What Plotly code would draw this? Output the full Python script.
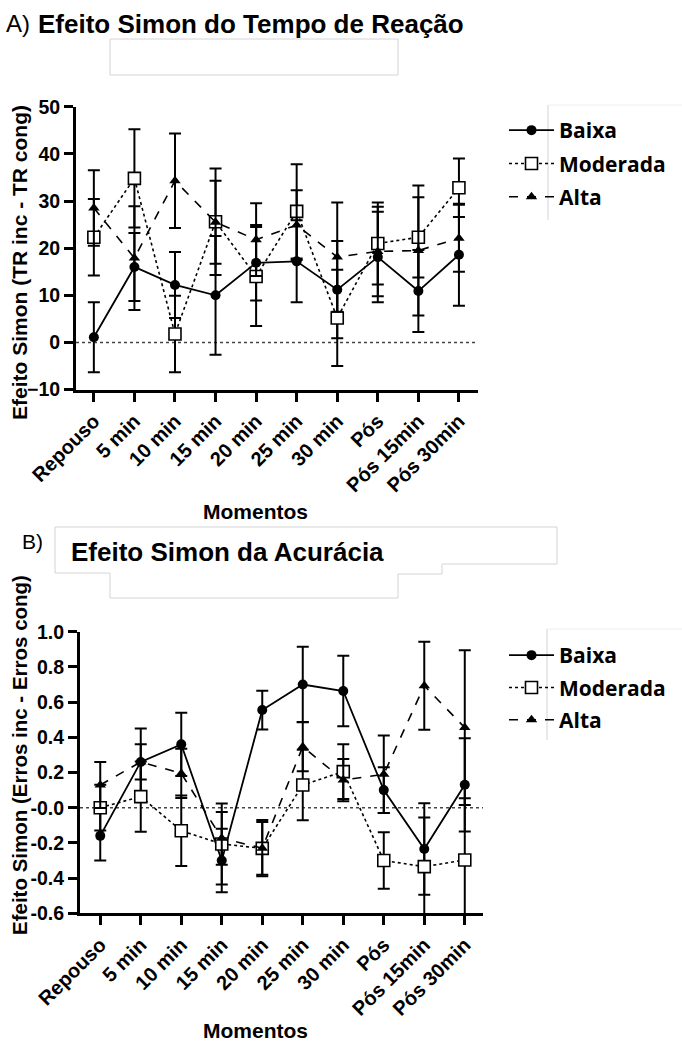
import plotly.graph_objects as go

W, H = 682, 1047

categories = ["Repouso", "5 min", "10 min", "15 min", "20 min", "25 min",
              "30 min", "Pós", "Pós 15min", "Pós 30min"]

# Panel A: Efeito Simon do Tempo de Reação
baixa_tr = [1.1, 16.0, 12.2, 10.0, 16.9, 17.2, 11.2, 18.1, 10.9, 18.6]
baixa_tr_err = [7.4, 7.2, 7.0, 12.6, 8.0, 8.7, 10.3, 9.6, 8.7, 10.8]
moderada_tr = [22.3, 34.8, 1.8, 25.6, 14.0, 27.8, 5.2, 21.0, 22.3, 32.8]
moderada_tr_err = [8.1, 10.4, 8.1, 11.3, 10.5, 10.0, 10.2, 8.7, 8.5, 6.2]
alta_tr = [28.5, 17.9, 34.3, 25.5, 21.8, 24.9, 18.1, 19.3, 19.5, 22.1]
alta_tr_err = [8.0, 11.0, 10.0, 8.8, 7.7, 7.4, 11.6, 9.5, 13.8, 7.1]

# Panel B: Efeito Simon da Acurácia
baixa_ac = [-0.16, 0.26, 0.36, -0.30, 0.555, 0.70, 0.663, 0.10, -0.235, 0.13]
baixa_ac_err = [0.14, 0.19, 0.18, 0.18, 0.11, 0.215, 0.20, 0.13, 0.26, 0.265]
moderada_ac = [0.0, 0.063, -0.131, -0.206, -0.231, 0.129, 0.205, -0.30, -0.335, -0.297]
moderada_ac_err = [0.13, 0.20, 0.20, 0.23, 0.15, 0.20, 0.155, 0.16, 0.28, 0.35]
alta_ac = [0.129, 0.26, 0.195, -0.174, -0.23, 0.347, 0.157, 0.19, 0.693, 0.455]
alta_ac_err = [0.13, 0.10, 0.14, 0.15, 0.16, 0.14, 0.12, 0.22, 0.25, 0.44]

yticks_a = [-10, 0, 10, 20, 30, 40, 50]
yticks_b = [-0.6, -0.4, -0.2, 0.0, 0.2, 0.4, 0.6, 0.8, 1.0]
yticktext_b = ["-0.6", "-0.4", "-0.2", "-0.0", "0.2", "0.4", "0.6", "0.8", "1.0"]

series_names = ["Baixa", "Moderada", "Alta"]


def px(x):
    return x / W


def py(y):
    return 1 - y / H


styles = {
    "Baixa": dict(line=dict(color="black", width=1.8, dash="solid"),
                  marker=dict(symbol="circle", size=10, color="black")),
    "Moderada": dict(line=dict(color="black", width=1.6, dash="dot"),
                     marker=dict(symbol="square", size=12, color="white",
                                 line=dict(color="black", width=1.6))),
    "Alta": dict(line=dict(color="black", width=1.6, dash="dash"),
                 marker=dict(symbol="triangle-up", size=10, color="black")),
}

fig = go.Figure()

panel_a = [(baixa_tr, baixa_tr_err), (moderada_tr, moderada_tr_err), (alta_tr, alta_tr_err)]
panel_b = [(baixa_ac, baixa_ac_err), (moderada_ac, moderada_ac_err), (alta_ac, alta_ac_err)]

for name, (vals, errs) in zip(series_names, panel_a):
    fig.add_trace(go.Scatter(
        x=categories, y=vals, name=name, mode="lines+markers",
        error_y=dict(type="data", array=errs, visible=True, color="black",
                     thickness=2, width=6),
        xaxis="x", yaxis="y", legend="legend", legendgroup="a" + name,
        **styles[name]))

for name, (vals, errs) in zip(series_names, panel_b):
    fig.add_trace(go.Scatter(
        x=categories, y=vals, name=name, mode="lines+markers",
        error_y=dict(type="data", array=errs, visible=True, color="black",
                     thickness=2, width=6),
        xaxis="x2", yaxis="y2", legend="legend2", legendgroup="b" + name,
        **styles[name]))

xtickfont = dict(family="Liberation Sans, Arial", size=20, color="black", weight="bold")
ytickfont = dict(family="Liberation Sans, Arial", size=19.5, color="black", weight="bold")
axis_common = dict(showline=True, linewidth=3, linecolor="black", ticks="outside",
                   ticklen=9, tickwidth=3, tickcolor="black", showgrid=False,
                   zeroline=False, automargin=False)

legfont = dict(family="Open Sans", size=21, color="black", weight="bold")

fig.update_layout(
    width=W, height=H, margin=dict(l=0, r=0, t=0, b=0, pad=0, autoexpand=False),
    paper_bgcolor="white", plot_bgcolor="white",
    xaxis=dict(domain=[px(76), px(478)], anchor="y", type="category",
               range=[-0.44, 9.47], tickangle=-45, tickfont=xtickfont, **axis_common),
    yaxis=dict(domain=[py(389.6), py(106.7)], anchor="x", range=[-10, 50],
               tickvals=yticks_a, tickfont=ytickfont, **axis_common),
    xaxis2=dict(domain=[px(80), px(483)], anchor="y2", type="category",
                range=[-0.5, 9.45], tickangle=-45, tickfont=xtickfont, **axis_common),
    yaxis2=dict(domain=[py(913.3), py(631.7)], anchor="x2", range=[-0.6, 1.0],
                tickvals=yticks_b, ticktext=yticktext_b, tickfont=ytickfont, **axis_common),
    legend=dict(x=px(504), y=py(110), xanchor="left", yanchor="top", font=legfont,
                tracegroupgap=3, bgcolor="rgba(0,0,0,0)", itemwidth=45),
    legend2=dict(x=px(504), y=py(635), xanchor="left", yanchor="top", font=legfont,
                 tracegroupgap=2, bgcolor="rgba(0,0,0,0)", itemwidth=45),
    showlegend=True,
)

# zero reference lines
for xr, yr in [("x domain", "y"), ("x2 domain", "y2")]:
    fig.add_shape(type="line", xref=xr, yref=yr, x0=0, x1=1, y0=0, y1=0,
                  line=dict(color="#444444", width=1.5, dash="dot"), layer="below")

gray = "#d4d4d4"
# decorative boxes
fig.add_shape(type="rect", xref="paper", yref="paper", x0=px(110), x1=px(398),
              y0=py(75), y1=py(39), line=dict(color=gray, width=1))
poly = [(55, 527), (557, 527), (557, 564), (442, 564), (442, 574), (398, 574),
        (398, 598), (110, 598), (110, 573), (55, 573)]
path = "M " + " L ".join(f"{px(a):.5f},{py(b):.5f}" for a, b in poly) + " Z"
fig.add_shape(type="path", xref="paper", yref="paper", path=path,
              line=dict(color=gray, width=1))
# legend frames
fig.add_shape(type="line", xref="paper", yref="paper", x0=px(548), x1=px(548),
              y0=py(220), y1=py(105), line=dict(color=gray, width=1))
fig.add_shape(type="line", xref="paper", yref="paper", x0=px(548), x1=px(682),
              y0=py(105), y1=py(105), line=dict(color="#eeeeee", width=1))
fig.add_shape(type="line", xref="paper", yref="paper", x0=px(547), x1=px(547),
              y0=py(740), y1=py(629), line=dict(color=gray, width=1))
fig.add_shape(type="line", xref="paper", yref="paper", x0=px(547), x1=px(682),
              y0=py(629), y1=py(629), line=dict(color="#eeeeee", width=1))

ann_font = dict(family="Liberation Sans, Arial", color="black")

# titles
fig.add_annotation(xref="paper", yref="paper", x=px(4), y=py(24), xanchor="left",
                   yanchor="middle", showarrow=False, text="A)",
                   font=dict(size=24, **ann_font))
fig.add_annotation(xref="paper", yref="paper", x=px(36), y=py(24), xanchor="left",
                   yanchor="middle", showarrow=False,
                   text="<b>Efeito Simon do Tempo de Reação</b>",
                   font=dict(size=26, **ann_font))
fig.add_annotation(xref="paper", yref="paper", x=px(20), y=py(541), xanchor="left",
                   yanchor="middle", showarrow=False, text="B)",
                   font=dict(size=21, **ann_font))
fig.add_annotation(xref="paper", yref="paper", x=px(69), y=py(552), xanchor="left",
                   yanchor="middle", showarrow=False, text="<b>Efeito Simon da Acurácia</b>",
                   font=dict(size=26, **ann_font))

# axis titles
fig.add_annotation(xref="paper", yref="paper", x=px(19), y=py(263), xanchor="center",
                   yanchor="middle", showarrow=False, textangle=-90,
                   text="<b>Efeito Simon (TR inc - TR cong)</b>",
                   font=dict(size=21, **ann_font))
fig.add_annotation(xref="paper", yref="paper", x=px(19), y=py(755), xanchor="center",
                   yanchor="middle", showarrow=False, textangle=-90,
                   text="<b>Efeito Simon (Erros inc - Erros cong)</b>",
                   font=dict(size=20.5, **ann_font))
fig.add_annotation(xref="paper", yref="paper", x=px(255), y=py(511), xanchor="center",
                   yanchor="middle", showarrow=False, text="<b>Momentos</b>",
                   font=dict(size=21, **ann_font))
fig.add_annotation(xref="paper", yref="paper", x=px(255), y=py(1030), xanchor="center",
                   yanchor="middle", showarrow=False, text="<b>Momentos</b>",
                   font=dict(size=21, **ann_font))

fig.write_html("out.html")
